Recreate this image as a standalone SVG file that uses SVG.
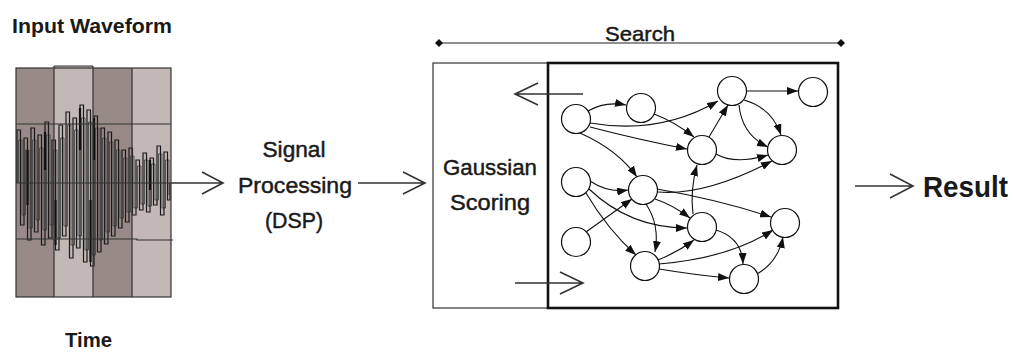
<svg xmlns="http://www.w3.org/2000/svg" width="1013" height="352" viewBox="0 0 1013 352">
<style>
.lbl{font-family:"Liberation Sans",Arial,sans-serif;fill:#1a1a1a}
.m{stroke:#1a1a1a;stroke-width:0.45}
.b{font-weight:bold}
.arr{fill:none;stroke:#333;stroke-width:1.6}
.node{fill:#fff;stroke:#111;stroke-width:1.2}
.edge{fill:none;stroke:#111;stroke-width:1.1;marker-end:url(#ah)}
.grid{stroke:#333;stroke-width:1.2;fill:none}
</style>
<defs>
<marker id="ah" markerUnits="userSpaceOnUse" viewBox="0 0 11 8" refX="11" refY="4" markerWidth="11" markerHeight="8" orient="auto">
<path d="M0,0 L11,4 L0,8 z" fill="#111"/>
</marker>
<clipPath id="wclip"><rect x="16" y="66" width="155" height="231"/></clipPath>
</defs>

<g id="waveform">
<rect x="16" y="68" width="38" height="229" fill="#978a87"/>
<rect x="54" y="66" width="39" height="231" fill="#c2b9b6"/>
<rect x="93" y="68" width="39" height="229" fill="#978a87"/>
<rect x="132" y="68" width="39" height="229" fill="#c2b9b6"/>
<g clip-path="url(#wclip)">
<path d="M18.5,183 V140 H22 V215 H25.5 V150 H29 V228 H32.5 V140 H36 V220 H39.5 V148 H43 V230 H46.5 V135 H50 V225 H53.5 V150 H57 V238 H60.5 V138 H64 V226 H67.5 V125 H71 V245 H74.5 V130 H78 V236 H81.5 V118 H85 V250 H88.5 V122 H92 V255 H95.5 V128 H99 V240 H102.5 V138 H106 V232 H109.5 V142 H113 V226 H116.5 V150 H120 V218 H123.5 V158 H127 V212 H130.5 V156 H134 V208 H137.5 V166 H141 V204 H144.5 V160 H148 V206 H151.5 V164 H155 V200 H158.5 V154 H162 V208 H165.5 V160 H169 V195" fill="none" stroke="#4a4a4a" stroke-width="0.9"/>
<path d="M17,183 V130 H20.5 V225 H24 V138 H27.5 V240 H31 V128 H34.5 V232 H38 V135 H41.5 V245 H45 V122 H48.5 V238 H52 V140 H55.5 V250 H59 V125 H62.5 V236 H66 V112 H69.5 V258 H73 V118 H76.5 V248 H80 V105 H83.5 V262 H87 V110 H90.5 V266 H94 V116 H97.5 V252 H101 V128 H104.5 V244 H108 V132 H111.5 V236 H115 V140 H118.5 V228 H122 V150 H125.5 V222 H129 V148 H132.5 V215 H136 V160 H139.5 V210 H143 V153 H146.5 V212 H150 V158 H153.5 V205 H157 V146 H160.5 V215 H164 V152 H167.5 V200 H170 V183" fill="none" stroke="#1a1a1a" stroke-width="1.2"/>
<path d="M27.5,150 V205 M45,132 V170 M80,108 V150 M90.5,200 V262 M94,118 V160 M55.5,200 V245 M150,160 V190" stroke="#111" stroke-width="2.2" fill="none"/>
</g>
<path class="grid" d="M16,124 H171 M16,183 H171 M16,239 H137 V240 H173"/>
<rect x="16" y="68" width="155" height="229" class="grid"/>
<path class="grid" d="M54,66 V297 M93,66 V297 M132,68 V297 M54,66 H93"/>
</g>

<g id="label-input">
<text class="lbl b" x="12" y="33" font-size="20" textLength="160" lengthAdjust="spacingAndGlyphs">Input Waveform</text>
</g>
<g id="label-time">
<text class="lbl b" x="65" y="347" font-size="21" textLength="47" lengthAdjust="spacingAndGlyphs">Time</text>
</g>

<g id="dsp">
<text class="lbl m" x="294" y="157" font-size="22" text-anchor="middle" textLength="63" lengthAdjust="spacingAndGlyphs">Signal</text>
<text class="lbl m" x="295" y="193" font-size="22" text-anchor="middle" textLength="114" lengthAdjust="spacingAndGlyphs">Processing</text>
<text class="lbl m" x="294" y="228" font-size="22" text-anchor="middle" textLength="58" lengthAdjust="spacingAndGlyphs">(DSP)</text>
</g>

<g id="search-header">
<line x1="439" y1="43" x2="841" y2="43" stroke="#222" stroke-width="1.2"/>
<path d="M435,43 L439,39 L443,43 L439,47 z M837,43 L841,39 L845,43 L841,47 z" fill="#111"/>
<text class="lbl m" x="640" y="41" font-size="21" text-anchor="middle" textLength="70" lengthAdjust="spacingAndGlyphs">Search</text>
</g>

<g id="gaussian">
<rect x="433" y="63" width="115" height="245" fill="none" stroke="#333" stroke-width="1.2"/>
<text class="lbl m" x="490" y="175" font-size="22" text-anchor="middle" textLength="94" lengthAdjust="spacingAndGlyphs">Gaussian</text>
<text class="lbl m" x="490" y="210" font-size="22" text-anchor="middle" textLength="80" lengthAdjust="spacingAndGlyphs">Scoring</text>
</g>

<g id="search-box">
<rect x="548" y="63" width="290" height="245" fill="none" stroke="#111" stroke-width="2.6"/>
</g>

<g id="result">
<text class="lbl b" x="923" y="197" font-size="30" textLength="85" lengthAdjust="spacingAndGlyphs">Result</text>
</g>

<g id="connectors">
<path class="arr" d="M171,183 H223 M202,172 L223,183 L202,194"/>
<path class="arr" d="M358,183 H425 M403,172 L425,183 L403,194"/>
<path class="arr" d="M855,186 H913 M890,174 L913,186 L890,198"/>
<path class="arr" d="M583,94 H515 M538,83 L515,94 L538,105"/>
<path class="arr" d="M515,283 H583 M560,272 L583,283 L560,294"/>

<path class="edge" d="M588,111 Q605,101 626,105"/>
<path class="edge" d="M590,123 Q660,135 718,101"/>
<path class="edge" d="M590,127 Q640,140 687,149"/>
<path class="edge" d="M580,133 Q618,150 637,177"/>
<path class="edge" d="M654,114 Q675,122 694,137"/>
<path class="edge" d="M709,137 L728,105"/>
<path class="edge" d="M746,91 L798,91"/>
<path class="edge" d="M744,100 Q772,108 781,135"/>
<path class="edge" d="M739,105 Q742,135 768,147"/>
<path class="edge" d="M716,154 Q735,165 768,155"/>
<path class="edge" d="M658,192 Q705,196 772,161"/>
<path class="edge" d="M693,214 Q690,190 697,165"/>
<path class="edge" d="M590,181 Q608,193 628,190"/>
<path class="edge" d="M589,189 Q630,228 687,228"/>
<path class="edge" d="M586,193 Q608,230 636,255"/>
<path class="edge" d="M586,232 L632,199"/>
<path class="edge" d="M655,199 Q673,205 690,218"/>
<path class="edge" d="M657,189 Q720,200 771,217"/>
<path class="edge" d="M646,204 Q660,225 655,252"/>
<path class="edge" d="M658,260 Q678,252 694,240"/>
<path class="edge" d="M659,264 Q730,258 773,230"/>
<path class="edge" d="M659,269 Q695,275 729,278"/>
<path class="edge" d="M716,230 Q742,238 743,264"/>
<path class="edge" d="M757,274 Q778,262 783,237"/>
</g>

<g id="n-A"><circle class="node" cx="576" cy="119" r="14.5"/></g>
<g id="n-B"><circle class="node" cx="641" cy="108" r="14.5"/></g>
<g id="n-C"><circle class="node" cx="732" cy="91" r="14.5"/></g>
<g id="n-D"><circle class="node" cx="813" cy="92" r="14.5"/></g>
<g id="n-E"><circle class="node" cx="702" cy="150" r="14.5"/></g>
<g id="n-F"><circle class="node" cx="782" cy="150" r="14.5"/></g>
<g id="n-G"><circle class="node" cx="576" cy="182" r="14.5"/></g>
<g id="n-H"><circle class="node" cx="643" cy="190" r="14.5"/></g>
<g id="n-I"><circle class="node" cx="702" cy="227" r="14.5"/></g>
<g id="n-J"><circle class="node" cx="785" cy="223" r="14.5"/></g>
<g id="n-K"><circle class="node" cx="576" cy="242" r="14.5"/></g>
<g id="n-L"><circle class="node" cx="645" cy="266" r="14.5"/></g>
<g id="n-M"><circle class="node" cx="744" cy="279" r="14.5"/></g>
</svg>
